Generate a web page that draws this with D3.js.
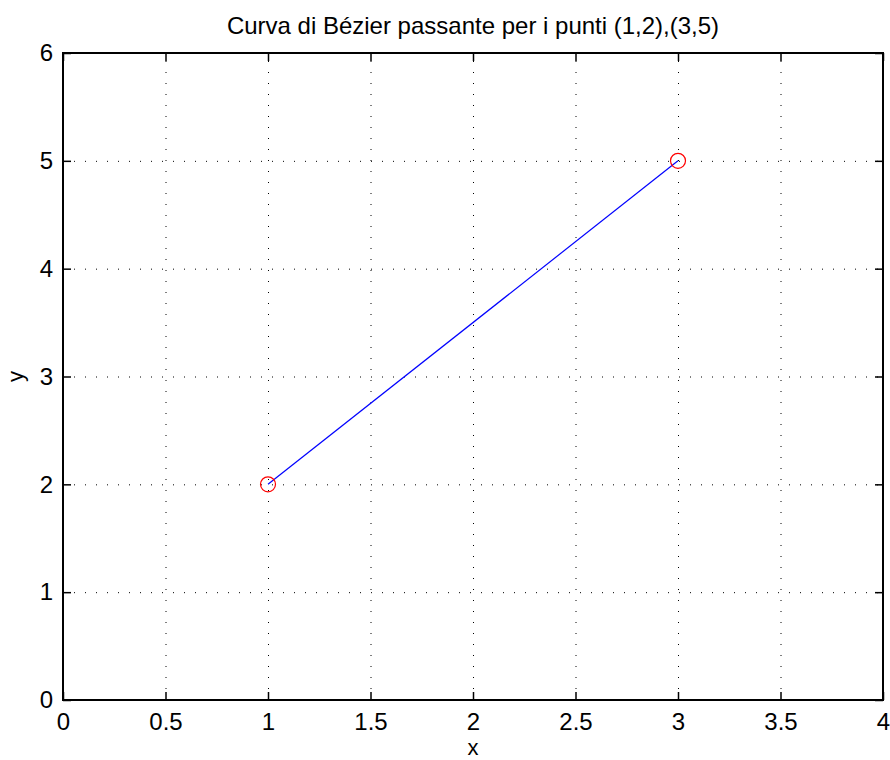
<!DOCTYPE html>
<html>
<head>
<meta charset="utf-8">
<script src="https://cdn.jsdelivr.net/npm/d3@7"></script>
<style>
  html, body { margin: 0; padding: 0; background: #fff; }
  svg text { font-family: "Liberation Sans", Arial, sans-serif; fill: #000; }
</style>
</head>
<body>
<svg id="chart" width="890" height="760"></svg>
<script>
// Control points of the Bézier curve (degree 1: a straight segment)
const pointsX = [1, 3];
const pointsY = [2, 5];
const xTicks = [0, 0.5, 1, 1.5, 2, 2.5, 3, 3.5, 4];
const yTicks = [0, 1, 2, 3, 4, 5, 6];
const titleText = "Curva di Bézier passante per i punti (1,2),(3,5)";

const svg = d3.select("#chart");
const plotL = 63, plotR = 883, plotT = 53, plotB = 700;
const fontSize = 24;
const labelSize = 22;

const x = d3.scaleLinear().domain([0, 4]).range([plotL, plotR]);
const y = d3.scaleLinear().domain([0, 6]).range([plotB, plotT]);

// Dotted grid
const grid = svg.append("g");
grid.selectAll("line.gx").data(xTicks.slice(1, -1)).join("line")
  .attr("x1", d => x(d) + 0.5).attr("x2", d => x(d) + 0.5)
  .attr("y1", plotB).attr("y2", plotT)
  .attr("stroke", "#000").attr("stroke-width", 1).attr("stroke-dasharray", "1,10");
grid.selectAll("line.gy").data(yTicks.slice(1, -1)).join("line")
  .attr("y1", d => y(d) + 0.5).attr("y2", d => y(d) + 0.5)
  .attr("x1", plotL).attr("x2", plotR)
  .attr("stroke", "#000").attr("stroke-width", 1).attr("stroke-dasharray", "1,10");

// Axes with inward ticks
const xAxis = d3.axisBottom(x).tickValues(xTicks).tickSizeInner(-8).tickSizeOuter(0)
  .tickFormat(d3.format("~g")).tickPadding(12.5);
const yAxis = d3.axisLeft(y).tickValues(yTicks).tickSizeInner(-8).tickSizeOuter(0)
  .tickFormat(d3.format("~g")).tickPadding(10);
const xTop = d3.axisTop(x).tickValues(xTicks).tickSizeInner(-8).tickSizeOuter(0).tickFormat("");
const yRight = d3.axisRight(y).tickValues(yTicks).tickSizeInner(-8).tickSizeOuter(0).tickFormat("");

function styleAxis(g) {
  g.select(".domain").remove();
  g.selectAll(".tick line").attr("stroke", "#000").attr("stroke-width", 1.5);
  g.selectAll(".tick text").attr("font-size", fontSize)
    .attr("font-family", "Liberation Sans, Arial, sans-serif");
}
svg.append("g").attr("transform", `translate(0,${plotB})`).call(xAxis).call(styleAxis);
svg.append("g").attr("transform", `translate(${plotL},0)`).call(yAxis).call(styleAxis)
  .selectAll(".tick text").attr("x", -10);
svg.append("g").attr("transform", `translate(0,${plotT})`).call(xTop).call(styleAxis);
svg.append("g").attr("transform", `translate(${plotR},0)`).call(yRight).call(styleAxis);

// Plot frame
svg.append("rect").attr("x", plotL).attr("y", plotT)
  .attr("width", plotR - plotL).attr("height", plotB - plotT)
  .attr("fill", "none").attr("stroke", "#000").attr("stroke-width", 2);

// Curve
const pts = pointsX.map((d, i) => [d, pointsY[i]]);
svg.append("path").datum(pts)
  .attr("d", d3.line().x(d => x(d[0])).y(d => y(d[1])))
  .attr("fill", "none").attr("stroke", "#0000ff").attr("stroke-width", 1.2);

// Control point markers
svg.selectAll("circle.pt").data(pts).join("circle")
  .attr("cx", d => x(d[0])).attr("cy", d => y(d[1])).attr("r", 7.5)
  .attr("fill", "none").attr("stroke", "#ff0000").attr("stroke-width", 1.2);

// Titles
svg.append("text").attr("x", (plotL + plotR) / 2).attr("y", 34)
  .attr("text-anchor", "middle").attr("font-size", fontSize).text(titleText);
svg.append("text").attr("x", (plotL + plotR) / 2).attr("y", 755.3)
  .attr("text-anchor", "middle").attr("font-size", labelSize).text("x");
svg.append("text").attr("transform", `translate(23,${(plotT + plotB) / 2}) rotate(-90)`)
  .attr("text-anchor", "middle").attr("font-size", labelSize).text("y");
</script>
</body>
</html>
